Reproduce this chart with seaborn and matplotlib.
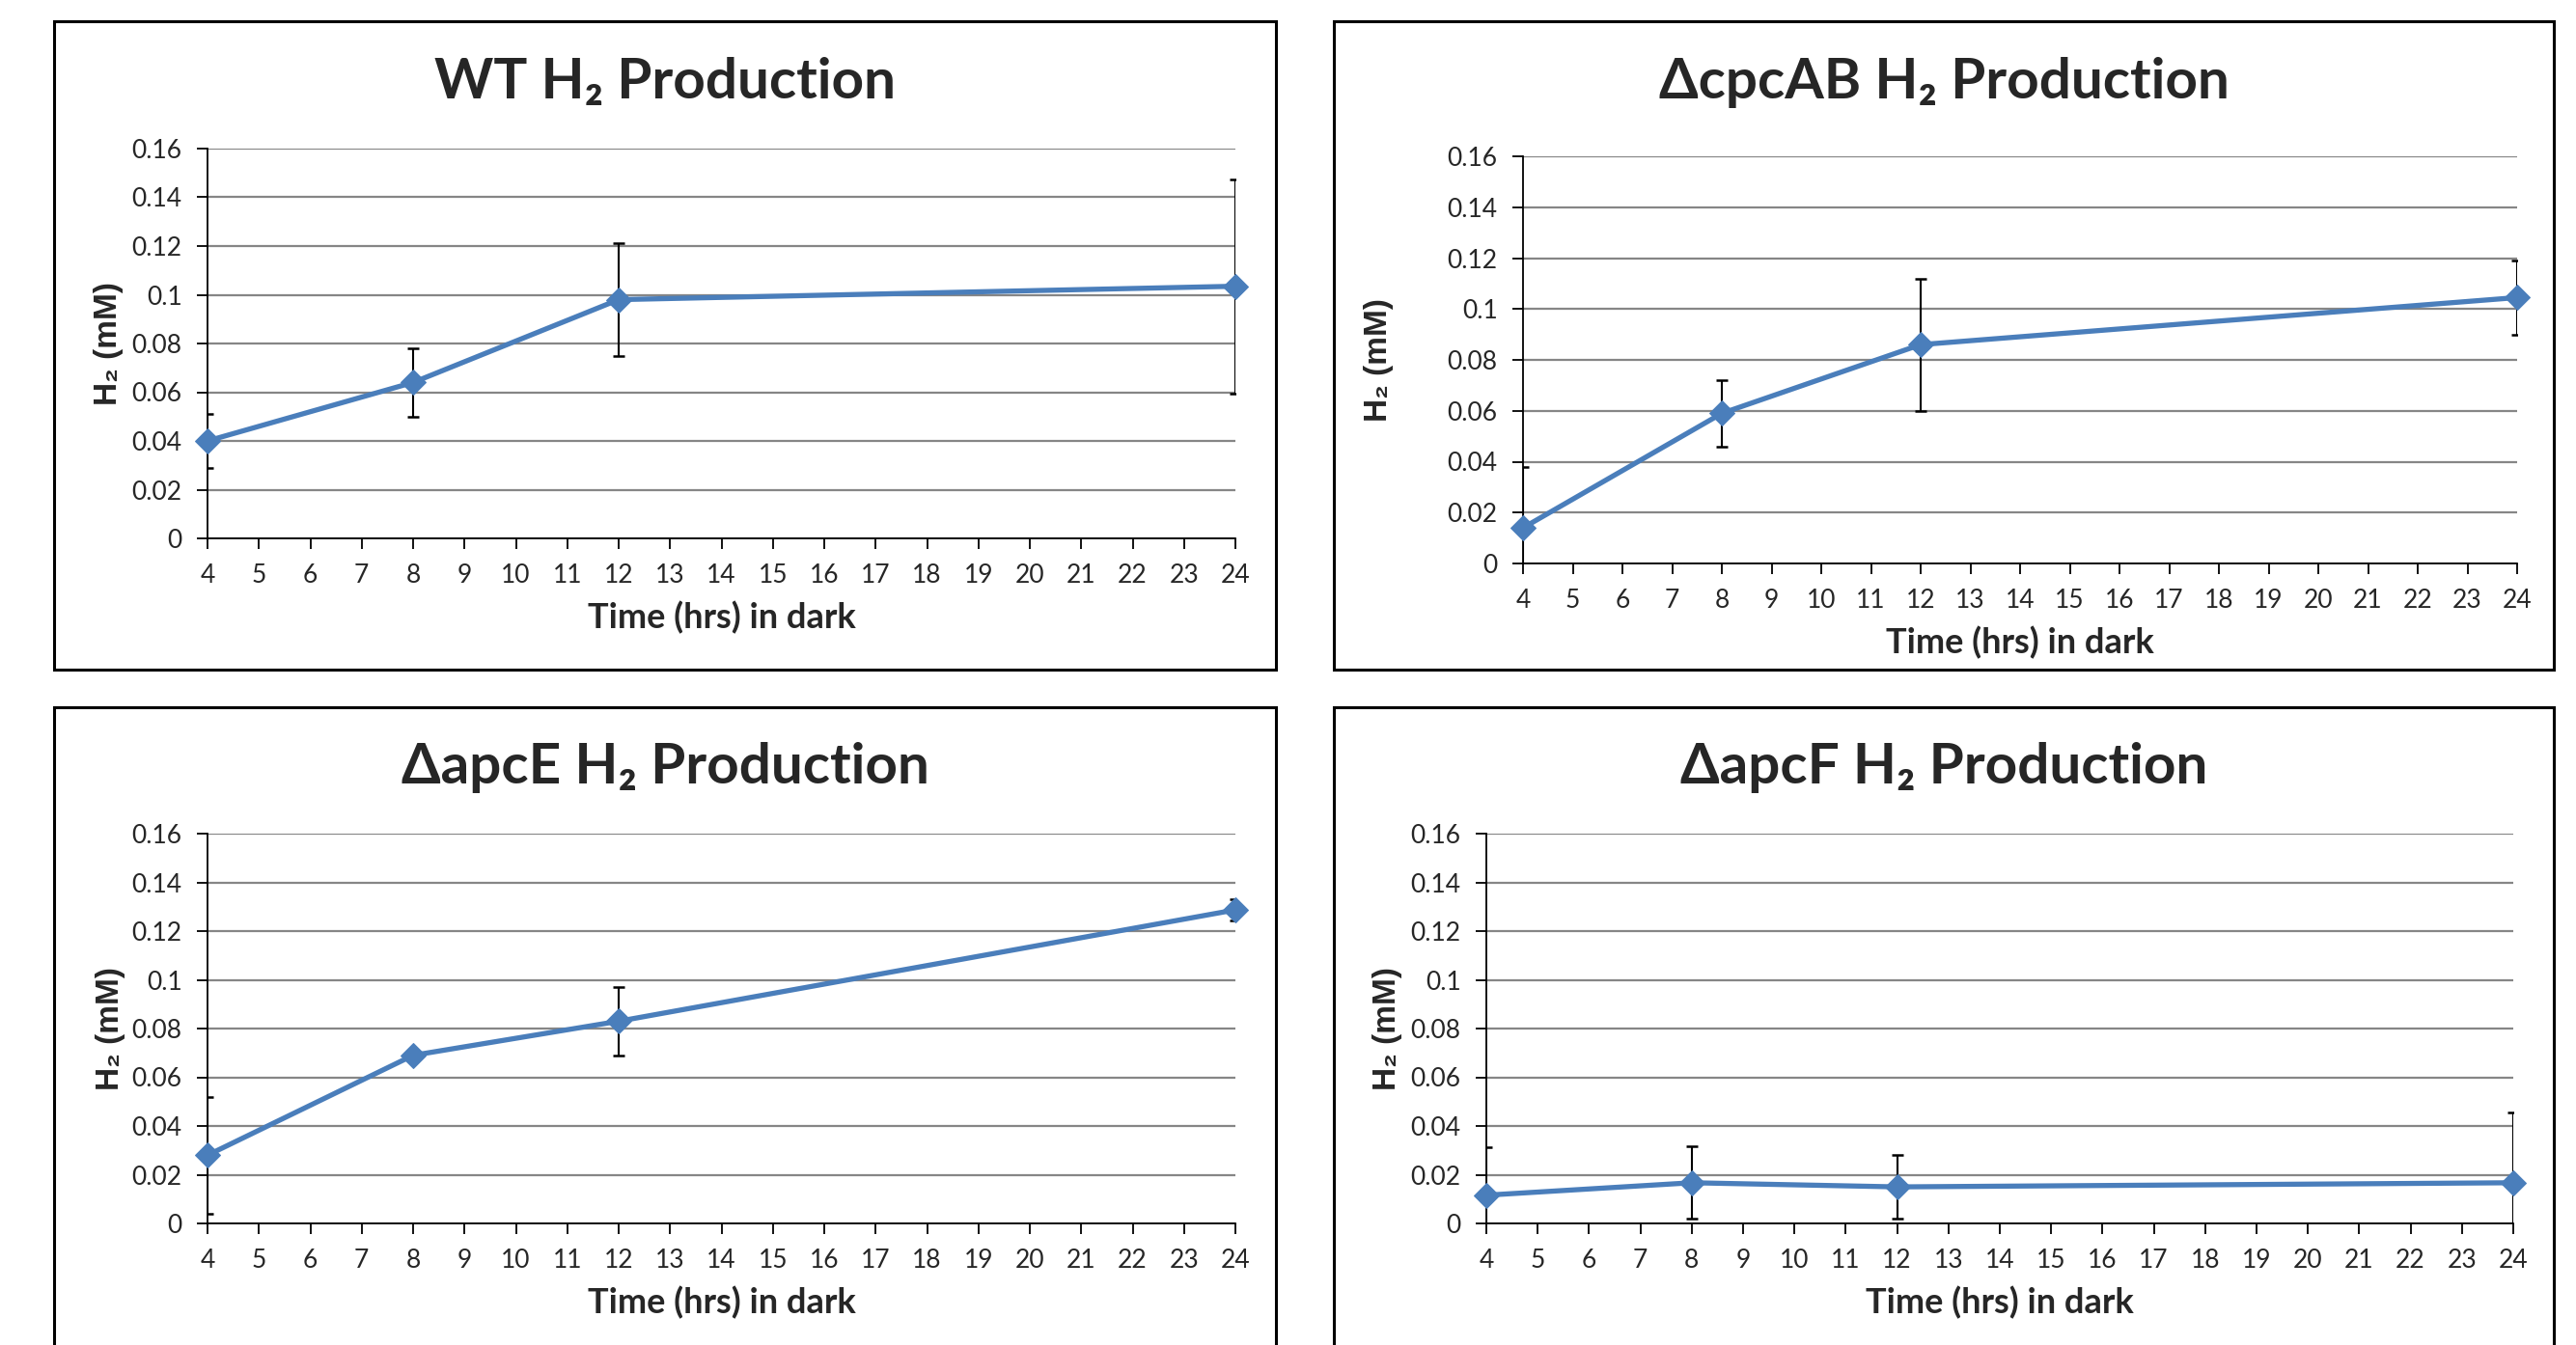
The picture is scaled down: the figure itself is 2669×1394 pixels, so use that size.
import matplotlib
matplotlib.use('Agg')
import matplotlib.pyplot as plt
import seaborn as sns
import pandas as pd
from matplotlib.patches import Rectangle

# values (H2 in mM, error = half bar height)
hours = [4, 8, 12, 24]
wt_h2 = [0.040, 0.064, 0.098, 0.1035]
wt_err = [0.011, 0.014, 0.023, 0.044]
cpcab_h2 = [0.014, 0.059, 0.086, 0.1045]
cpcab_err = [0.024, 0.013, 0.026, 0.0145]
apce_h2 = [0.028, 0.069, 0.083, 0.1287]
apce_err = [0.024, 0.0, 0.014, 0.0043]
apcf_h2 = [0.0116, 0.0167, 0.015, 0.0167]
apcf_err = [0.0197, 0.0149, 0.013, 0.0288]

titles = ['WT H₂ Production', 'ΔcpcAB H₂ Production',
          'ΔapcE H₂ Production', 'ΔapcF H₂ Production']
x_ticks = list(range(4, 25))
y_ticks = [0, 0.02, 0.04, 0.06, 0.08, 0.1, 0.12, 0.14, 0.16]
y_tick_labels = ['0', '0.02', '0.04', '0.06', '0.08', '0.1', '0.12', '0.14', '0.16']
x_label = 'Time (hrs) in dark'
y_label = 'H₂ (mM)'

sns.set_style('white')
plt.rcParams['font.family'] = ['Lato', 'DejaVu Sans']

W, H = 2669, 1394
fig = plt.figure(figsize=(W / 100, H / 100), dpi=100)

# pixel layout: axes (l, t, r, b), frame (l, t, r, b), title baseline, ylabel x, xlabel baseline
layout = [
    ((215, 154, 1280, 558), (56, 22, 1322, 694), 102, 112, 651),
    ((1578, 162, 2608, 584), (1382, 22, 2646, 694), 102, 1428, 677),
    ((215, 864, 1280, 1268), (56, 733, 1322, 1420), 812, 115, 1361),
    ((1540, 864, 2604, 1268), (1382, 733, 2646, 1420), 812, 1438, 1361),
]
series = [(wt_h2, wt_err), (cpcab_h2, cpcab_err), (apce_h2, apce_err), (apcf_h2, apcf_err)]

for (axb, frm, t_base, yl_x, xl_base), (vals, errs), title in zip(layout, series, titles):
    l, t, r, b = axb
    ax = fig.add_axes([l / W, 1 - b / H, (r - l) / W, (b - t) / H])
    df = pd.DataFrame({'hours': hours, 'h2': vals})
    ax.errorbar(hours, vals, yerr=errs, fmt='none', ecolor='black',
                elinewidth=1.5, capsize=4, capthick=1.8, zorder=3)
    sns.lineplot(data=df, x='hours', y='h2', ax=ax, color='#4A7EBB', lw=3.8,
                 marker='D', markersize=13, markeredgecolor='#4A7EBB',
                 zorder=4, clip_on=False)
    ax.set_xlim(4, 24)
    ax.set_ylim(0, 0.16)
    ax.set_xticks(x_ticks)
    ax.set_yticks(y_ticks)
    ax.set_yticklabels(y_tick_labels)
    ax.set_xlabel('')
    ax.set_ylabel('')
    ax.yaxis.grid(True, color='#868686', lw=1.6)
    ax.xaxis.grid(False)
    ax.set_axisbelow(True)
    for s in ['top', 'right']:
        ax.spines[s].set_visible(False)
    for s in ['left', 'bottom']:
        ax.spines[s].set_color('black')
        ax.spines[s].set_linewidth(1.3)
    ax.tick_params(direction='out', length=8, width=1.3, color='black',
                   labelsize=19, pad=11, bottom=True, left=True)

    fl, ft, fr, fb = frm
    fig.add_artist(Rectangle((fl / W, 1 - fb / H), (fr - fl) / W, (fb - ft) / H,
                             transform=fig.transFigure, fill=False, ec='black', lw=2.2))
    fig.text((fl + fr) / 2 / W, 1 - t_base / H, title, ha='center', va='baseline',
             fontsize=42, fontweight='bold')
    fig.text(yl_x / W, 1 - (t + b) / 2 / H, y_label, rotation=90, ha='center', va='center',
             fontsize=24, fontweight='bold', family=['Liberation Sans', 'DejaVu Sans'])
    fig.text((l + r) / 2 / W, 1 - xl_base / H, x_label, ha='center', va='baseline',
             fontsize=26, fontweight='bold')

fig.savefig('out.png', dpi=100, facecolor='white')
